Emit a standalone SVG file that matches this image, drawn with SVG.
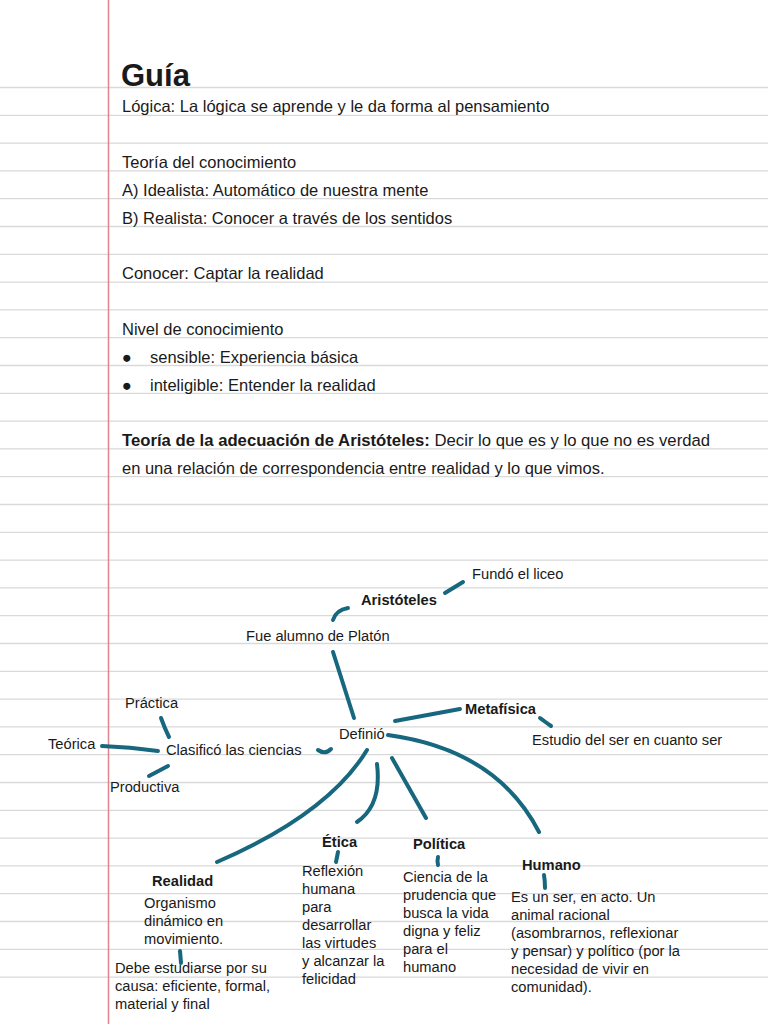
<svg xmlns="http://www.w3.org/2000/svg" width="768" height="1024" viewBox="0 0 768 1024">
<style>
text{font-family:"Liberation Sans",Arial,sans-serif;fill:#1a1a1a}
.h{font-size:16.5px}
.d{font-size:14.7px}
.b{font-weight:bold}
.rule{stroke:#d9d9d9;stroke-width:1.3}
.c{fill:none;stroke:#17687f;stroke-width:4;stroke-linecap:round}
</style>
<rect width="768" height="1024" fill="#ffffff"/>
<g id="paper">
<g class="rule">
<line x1="0" y1="87.5" x2="768" y2="87.5"/><line x1="0" y1="115.3" x2="768" y2="115.3"/><line x1="0" y1="143.1" x2="768" y2="143.1"/><line x1="0" y1="170.9" x2="768" y2="170.9"/><line x1="0" y1="198.7" x2="768" y2="198.7"/><line x1="0" y1="226.5" x2="768" y2="226.5"/><line x1="0" y1="254.3" x2="768" y2="254.3"/><line x1="0" y1="282.1" x2="768" y2="282.1"/><line x1="0" y1="309.9" x2="768" y2="309.9"/><line x1="0" y1="337.7" x2="768" y2="337.7"/><line x1="0" y1="365.5" x2="768" y2="365.5"/><line x1="0" y1="393.3" x2="768" y2="393.3"/><line x1="0" y1="421.1" x2="768" y2="421.1"/><line x1="0" y1="448.9" x2="768" y2="448.9"/><line x1="0" y1="476.7" x2="768" y2="476.7"/><line x1="0" y1="504.5" x2="768" y2="504.5"/><line x1="0" y1="532.3" x2="768" y2="532.3"/><line x1="0" y1="560.1" x2="768" y2="560.1"/><line x1="0" y1="587.9" x2="768" y2="587.9"/><line x1="0" y1="615.7" x2="768" y2="615.7"/><line x1="0" y1="643.5" x2="768" y2="643.5"/><line x1="0" y1="671.3" x2="768" y2="671.3"/><line x1="0" y1="699.1" x2="768" y2="699.1"/><line x1="0" y1="726.9" x2="768" y2="726.9"/><line x1="0" y1="754.7" x2="768" y2="754.7"/><line x1="0" y1="782.5" x2="768" y2="782.5"/><line x1="0" y1="810.3" x2="768" y2="810.3"/><line x1="0" y1="838.1" x2="768" y2="838.1"/><line x1="0" y1="865.9" x2="768" y2="865.9"/><line x1="0" y1="893.7" x2="768" y2="893.7"/><line x1="0" y1="921.5" x2="768" y2="921.5"/><line x1="0" y1="949.3" x2="768" y2="949.3"/><line x1="0" y1="977.1" x2="768" y2="977.1"/>
</g>
<line x1="108.5" y1="0" x2="108.5" y2="1024" stroke="#e0848e" stroke-width="1.5"/>
</g>
<g id="notes">
<text x="121" y="86" font-size="31" class="b">Guía</text>
<text x="122" y="112" class="h">Lógica: La lógica se aprende y le da forma al pensamiento</text>
<text x="122" y="168" class="h">Teoría del conocimiento</text>
<text x="122" y="196" class="h">A) Idealista: Automático de nuestra mente</text>
<text x="122" y="224" class="h">B) Realista: Conocer a través de los sentidos</text>
<text x="122" y="279" class="h">Conocer: Captar la realidad</text>
<text x="122" y="335" class="h">Nivel de conocimiento</text>
<text x="122" y="363" class="h">●</text><text x="150" y="363" class="h">sensible: Experiencia básica</text>
<text x="122" y="391" class="h">●</text><text x="150" y="391" class="h">inteligible: Entender la realidad</text>
<text x="122" y="446" font-size="16.7"><tspan class="b">Teoría de la adecuación de Aristóteles:</tspan> Decir lo que es y lo que no es verdad</text>
<text x="122" y="474" class="h">en una relación de correspondencia entre realidad y lo que vimos.</text>
</g>
<g id="connectors">
<path class="c" d="M445,593 L463,582"/>
<path class="c" d="M333,620 Q336,610 348,608"/>
<path class="c" d="M333,652 L354,718"/>
<path class="c" d="M395,721 L460,709"/>
<path class="c" d="M540,718 Q544,721 551,726"/>
<path class="c" d="M388,735 Q497,750 539,832"/>
<path class="c" d="M392,758 L426,818"/>
<path class="c" d="M377,764 Q382,805 357,822"/>
<path class="c" d="M367,750 Q328,814 217,862"/>
<path class="c" d="M318,750 Q325,755 331,749"/>
<path class="c" d="M102,746 Q130,747 158,751"/>
<path class="c" d="M161,718 Q165,729 169,737"/>
<path class="c" d="M149,776 L168,766"/>
<path class="c" d="M336,862 L338,852"/>
<path class="c" d="M180,951 L181,963"/>
<path class="c" d="M438,857 Q437,861 438,865"/>
<path class="c" d="M544,875 Q545,881 545,888"/>
</g>
<g id="aristoteles"><text x="361" y="605" class="d b">Aristóteles</text></g>
<g id="liceo"><text x="472" y="579" class="d">Fundó el liceo</text></g>
<g id="platon"><text x="246" y="641" class="d">Fue alumno de Platón</text></g>
<g id="definio"><text x="339" y="739" class="d">Definió</text></g>
<g id="metafisica"><text x="465" y="714" class="d b">Metafísica</text></g>
<g id="estudio"><text x="532" y="745" class="d">Estudio del ser en cuanto ser</text></g>
<g id="clasifico"><text x="166" y="755" class="d">Clasificó las ciencias</text></g>
<g id="practica"><text x="125" y="708" class="d">Práctica</text></g>
<g id="teorica"><text x="48" y="749" class="d">Teórica</text></g>
<g id="productiva"><text x="110" y="792" class="d">Productiva</text></g>
<g id="etica"><text x="322" y="847" class="d b">Ética</text>
<text x="302" class="d"><tspan x="302" y="876">Reflexión</tspan><tspan x="302" y="894">humana</tspan><tspan x="302" y="912">para</tspan><tspan x="302" y="930">desarrollar</tspan><tspan x="302" y="948">las virtudes</tspan><tspan x="302" y="966">y alcanzar la</tspan><tspan x="302" y="984">felicidad</tspan></text></g>
<g id="politica"><text x="413" y="849" class="d b">Política</text>
<text class="d"><tspan x="403" y="882">Ciencia de la</tspan><tspan x="403" y="900">prudencia que</tspan><tspan x="403" y="918">busca la vida</tspan><tspan x="403" y="936">digna y feliz</tspan><tspan x="403" y="954">para el</tspan><tspan x="403" y="972">humano</tspan></text></g>
<g id="humano"><text x="522" y="870" class="d b">Humano</text>
<text class="d"><tspan x="511" y="902">Es un ser, en acto. Un</tspan><tspan x="511" y="920">animal racional</tspan><tspan x="511" y="938">(asombrarnos, reflexionar</tspan><tspan x="511" y="956">y pensar) y político (por la</tspan><tspan x="511" y="974">necesidad de vivir en</tspan><tspan x="511" y="992">comunidad).</tspan></text></g>
<g id="realidad"><text x="152" y="886" class="d b">Realidad</text>
<text class="d"><tspan x="144" y="908">Organismo</tspan><tspan x="144" y="926">dinámico en</tspan><tspan x="144" y="944">movimiento.</tspan></text>
<text class="d"><tspan x="115" y="973">Debe estudiarse por su</tspan><tspan x="115" y="991">causa: eficiente, formal,</tspan><tspan x="115" y="1009">material y final</tspan></text></g>
</svg>
